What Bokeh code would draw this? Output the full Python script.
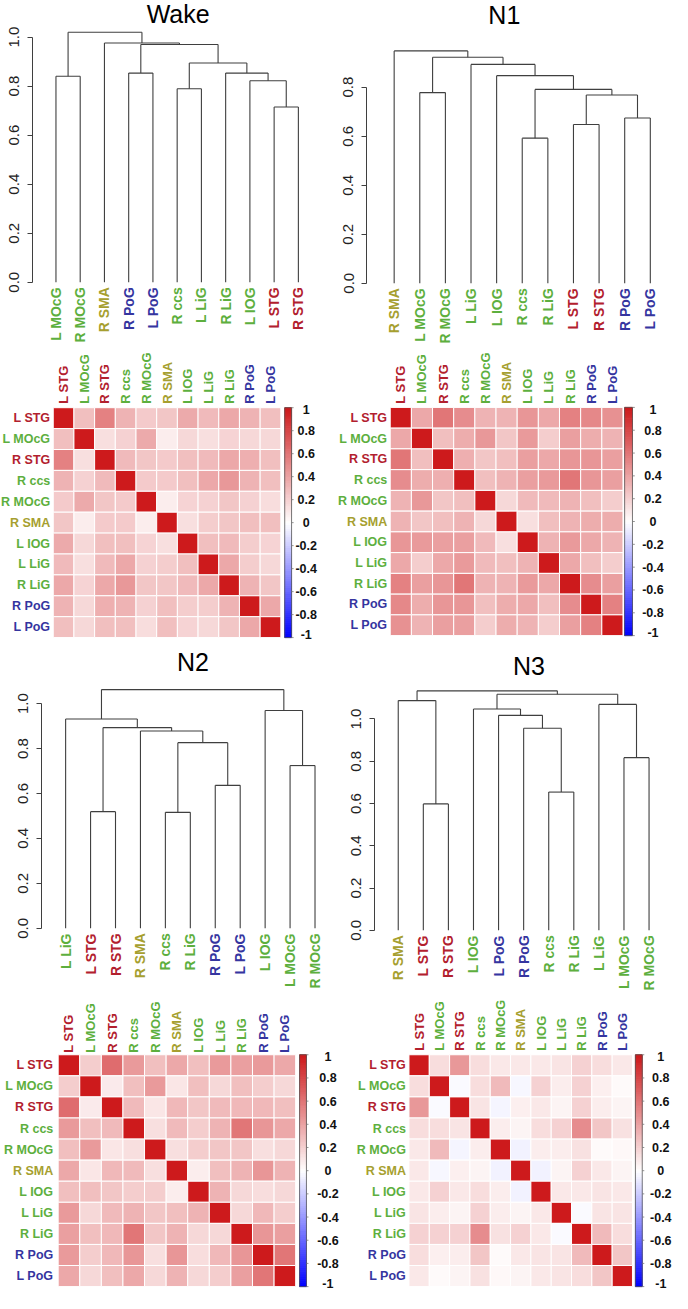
import math
from bokeh.plotting import figure
from bokeh.layouts import column, row
from bokeh.models import (Range1d, LinearAxis, FixedTicker, NumeralTickFormatter,
                          LinearColorMapper, ColumnDataSource)
from bokeh.core.properties import value
from bokeh.embed import file_html
from bokeh.resources import INLINE

FONT = "Liberation Sans"

# ---------------- data ----------------
regions = ["L STG", "L MOcG", "R STG", "R ccs", "R MOcG", "R SMA",
           "L IOG", "L LiG", "R LiG", "R PoG", "L PoG"]
region_color = {
    "L STG": "#B2202E", "R STG": "#B2202E",
    "L MOcG": "#5DAF3E", "R MOcG": "#5DAF3E", "R ccs": "#5DAF3E",
    "L IOG": "#5DAF3E", "L LiG": "#5DAF3E", "R LiG": "#5DAF3E",
    "R SMA": "#A69F30",
    "R PoG": "#35359F", "L PoG": "#35359F",
}

# upper triangles of the correlation matrices (row-wise, order = regions)
wake_upper = [
    [0.28, 0.55, 0.33, 0.23, 0.25, 0.37, 0.30, 0.38, 0.33, 0.28],
    [0.14, 0.20, 0.37, 0.08, 0.17, 0.14, 0.19, 0.17, 0.17],
    [0.30, 0.25, 0.23, 0.28, 0.30, 0.38, 0.35, 0.28],
    [0.23, 0.23, 0.28, 0.38, 0.45, 0.33, 0.28],
    [0.08, 0.19, 0.20, 0.25, 0.20, 0.15],
    [0.14, 0.22, 0.25, 0.28, 0.28],
    [0.28, 0.30, 0.22, 0.19],
    [0.38, 0.22, 0.17],
    [0.33, 0.25],
    [0.38],
]
n1_upper = [
    [0.38, 0.60, 0.50, 0.33, 0.33, 0.46, 0.38, 0.55, 0.52, 0.48],
    [0.28, 0.36, 0.45, 0.25, 0.44, 0.22, 0.42, 0.36, 0.33],
    [0.35, 0.25, 0.28, 0.42, 0.38, 0.46, 0.46, 0.42],
    [0.28, 0.33, 0.42, 0.44, 0.60, 0.46, 0.42],
    [0.17, 0.30, 0.30, 0.33, 0.28, 0.22],
    [0.14, 0.28, 0.33, 0.36, 0.36],
    [0.33, 0.44, 0.38, 0.33],
    [0.38, 0.28, 0.22],
    [0.50, 0.42],
    [0.55],
]
n2_upper = [
    [0.22, 0.64, 0.44, 0.28, 0.38, 0.28, 0.44, 0.42, 0.44, 0.38],
    [0.09, 0.28, 0.44, 0.11, 0.28, 0.17, 0.28, 0.22, 0.17],
    [0.30, 0.11, 0.31, 0.25, 0.30, 0.31, 0.31, 0.28],
    [0.14, 0.30, 0.22, 0.33, 0.60, 0.46, 0.38],
    [0.14, 0.22, 0.25, 0.25, 0.14, 0.17],
    [0.08, 0.28, 0.33, 0.46, 0.33],
    [0.33, 0.17, 0.15, 0.17],
    [0.17, 0.31, 0.22],
    [0.46, 0.42],
    [0.60],
]
n3_upper = [
    [0.15, 0.45, 0.15, 0.10, 0.10, 0.10, 0.12, 0.20, 0.15, 0.10],
    [-0.02, 0.15, 0.30, -0.03, 0.20, 0.08, 0.20, 0.07, 0.02],
    [0.12, -0.04, 0.07, 0.10, 0.05, 0.20, 0.08, 0.05],
    [0.08, 0.05, 0.15, 0.20, 0.50, 0.25, 0.13],
    [-0.05, 0.08, 0.08, 0.13, 0.02, 0.03],
    [-0.05, 0.05, 0.20, 0.10, 0.05],
    [0.10, 0.10, 0.12, 0.10],
    [-0.02, 0.12, 0.12],
    [0.30, 0.15],
    [0.25],
]

# dendrograms: leaf order and merges (child a, child b, height); ints = earlier merge (1-based)
wake_order = ["L MOcG", "R MOcG", "R SMA", "R PoG", "L PoG", "R ccs",
              "L LiG", "R LiG", "L IOG", "L STG", "R STG"]
wake_merges = [("L STG", "R STG", 0.715), ("L IOG", 1, 0.822), ("R LiG", 2, 0.853),
               ("R ccs", "L LiG", 0.789), (4, 3, 0.894), ("R PoG", "L PoG", 0.853),
               (6, 5, 0.970), ("R SMA", 7, 0.976), ("L MOcG", "R MOcG", 0.840),
               (9, 8, 1.020)]
n1_order = ["R SMA", "L MOcG", "R MOcG", "L LiG", "L IOG", "R ccs",
            "R LiG", "L STG", "R STG", "R PoG", "L PoG"]
n1_merges = [("R ccs", "R LiG", 0.592), ("L STG", "R STG", 0.648), ("R PoG", "L PoG", 0.674),
             (2, 3, 0.768), (1, 4, 0.791), ("L MOcG", "R MOcG", 0.778),
             ("L IOG", 5, 0.847), ("L LiG", 7, 0.893), (6, 8, 0.922), ("R SMA", 9, 0.948)]
n2_order = ["L LiG", "L STG", "R STG", "R SMA", "R ccs", "R LiG",
            "R PoG", "L PoG", "L IOG", "L MOcG", "R MOcG"]
n2_merges = [("R ccs", "R LiG", 0.516), ("L STG", "R STG", 0.519), ("R PoG", "L PoG", 0.636),
             ("L MOcG", "R MOcG", 0.724), (1, 3, 0.826), ("R SMA", 5, 0.878),
             (2, 6, 0.893), ("L LiG", 7, 0.931), ("L IOG", 4, 0.969), (8, 9, 1.062)]
n3_order = ["R SMA", "L STG", "R STG", "L IOG", "L PoG", "R PoG",
            "R ccs", "R LiG", "L LiG", "L MOcG", "R MOcG"]
n3_merges = [("L STG", "R STG", 0.598), ("R ccs", "R LiG", 0.654), ("L MOcG", "R MOcG", 0.817),
             ("R PoG", 2, 0.956), ("L PoG", 4, 1.017), ("L IOG", 5, 1.047),
             ("L LiG", 3, 1.069), ("R SMA", 1, 1.087), (6, 7, 1.117), (8, 9, 1.133)]

cbar_ticks = [1.0, 0.8, 0.6, 0.4, 0.2, 0.0, -0.2, -0.4, -0.6, -0.8, -1.0]
cbar_labels = ["1", "0.8", "0.6", "0.4", "0.2", "0", "-0.2", "-0.4", "-0.6", "-0.8", "-1"]

# ---------------- helpers ----------------
SH = 336 / 344.0
SV = 1293 / 1309.0
LINE = "#3f3f3f"


def hexc(rgb):
    return "#%02x%02x%02x" % tuple(int(round(v)) for v in rgb)


def make_palette(n=100):
    blue, white, red = (0, 0, 255), (255, 255, 255), (205, 26, 28)
    pal = []
    for k in range(n):
        t = k / n
        pal.append(hexc([blue[i] + (white[i] - blue[i]) * t for i in range(3)]))
    for k in range(n + 1):
        t = k / n
        pal.append(hexc([white[i] + (red[i] - white[i]) * t for i in range(3)]))
    return pal


mapper = LinearColorMapper(palette=make_palette(), low=-1, high=1)


def full_matrix(upper):
    n = len(regions)
    M = [[1.0] * n for _ in range(n)]
    for i, r in enumerate(upper):
        for k, v in enumerate(r):
            j = i + 1 + k
            M[i][j] = v
            M[j][i] = v
    return M


def add_text(p, xs, ys, texts, colors, size, bold, angle, align, baseline):
    src = ColumnDataSource(dict(x=xs, y=ys, t=texts, c=colors))
    p.text(x="x", y="y", text="t", text_color="c", source=src, angle=angle,
           text_align=align, text_baseline=baseline, text_font=value(FONT),
           text_font_size=value(size), text_font_style="bold" if bold else "normal")


def px_w(rx0, rx1):
    return int(round(rx1 * SH)) - int(round(rx0 * SH))


def px_h(ry0, ry1):
    return int(round(ry1 * SV)) - int(round(ry0 * SV))


def dendro_fig(title, order, merges, top_tick, box, axis_x, leaf1, leafn, zero_y, ppu, title_xy):
    rx0, ry0, rx1, ry1 = box
    W, H = px_w(rx0, rx1), px_h(ry0, ry1)
    dx = (leafn - leaf1) / 10.0
    fx = lambda r: 1 + (r - leaf1) / dx
    fy = lambda r: (zero_y - r) / ppu
    ml = int(round((axis_x - rx0) * SH))
    p = figure(width=W, height=H, output_backend="svg", toolbar_location=None,
               x_range=Range1d(fx(axis_x), fx(rx1)), y_range=Range1d(fy(ry1), fy(ry0)),
               x_axis_location=None, y_axis_location=None,
               min_border_left=ml, min_border_right=0, min_border_top=0, min_border_bottom=0)
    p.outline_line_color = None
    p.grid.visible = False

    pos = {name: i + 1 for i, name in enumerate(order)}
    nodes = []

    def get(c):
        if isinstance(c, str):
            return float(pos[c]), 0.0
        return nodes[c - 1]

    x0, y0, x1, y1 = [], [], [], []
    for a, b, h in merges:
        xa, ha = get(a)
        xb, hb = get(b)
        x0 += [xa, xb, xa]
        y0 += [ha, hb, h]
        x1 += [xa, xb, xb]
        y1 += [h, h, h]
        nodes.append(((xa + xb) / 2.0, h))
    p.segment(x0=x0, y0=y0, x1=x1, y1=y1, line_color=LINE, line_width=1.1)

    ax = LinearAxis(bounds=(0, top_tick),
                    ticker=FixedTicker(ticks=[round(0.2 * k, 1) for k in range(int(round(top_tick / 0.2)) + 1)]),
                    formatter=NumeralTickFormatter(format="0.0"),
                    major_label_orientation="parallel",
                    major_label_text_font=FONT, major_label_text_font_size="15px",
                    major_label_text_color="#222222", major_label_standoff=8,
                    major_tick_out=5, major_tick_in=0, minor_tick_out=0, minor_tick_in=0,
                    axis_line_color=LINE, major_tick_line_color=LINE)
    p.add_layout(ax, "left")

    add_text(p, [float(pos[n]) for n in order], [fy(zero_y + 5)] * len(order), order,
             [region_color[n] for n in order], "14px", True, math.pi / 2, "right", "middle")
    add_text(p, [fx(title_xy[0])], [fy(title_xy[1])], [title], ["#000000"], "25px", False,
             0.0, "center", "middle")
    return p


def heat_fig(upper, box, cells, cb_x, cb_label_x, rowlab_x, collab_y):
    rx0, ry0, rx1, ry1 = box
    cx0, cy0, cx1, cy1 = cells
    n = len(regions)
    fx = lambda r: n * (r - cx0) / (cx1 - cx0)
    fy = lambda r: n * (r - cy0) / (cy1 - cy0)
    W, H = px_w(rx0, rx1), px_h(ry0, ry1)
    p = figure(width=W, height=H, output_backend="svg", toolbar_location=None,
               x_range=Range1d(fx(rx0), fx(rx1)), y_range=Range1d(fy(ry1), fy(ry0)),
               x_axis_location=None, y_axis_location=None,
               min_border_left=0, min_border_right=0, min_border_top=0, min_border_bottom=0)
    p.outline_line_color = None
    p.grid.visible = False

    M = full_matrix(upper)
    xs, ys, rs = [], [], []
    for i in range(n):
        for j in range(n):
            xs.append(j + 0.5)
            ys.append(i + 0.5)
            rs.append(M[i][j])
    src = ColumnDataSource(dict(x=xs, y=ys, r=rs))
    p.rect(x="x", y="y", width=1, height=1, source=src,
           fill_color={"field": "r", "transform": mapper}, line_color="white", line_width=1)

    # colour bar from the same mapper
    nb = 120
    bx0, bx1 = fx(cb_x[0]), fx(cb_x[1])
    vals = [-1 + 2.0 * (k + 0.5) / nb for k in range(nb)]
    bsrc = ColumnDataSource(dict(x=[(bx0 + bx1) / 2] * nb, y=[(1 - v) / 2 * n for v in vals], r=vals))
    p.rect(x="x", y="y", width=bx1 - bx0, height=n / nb, source=bsrc,
           fill_color={"field": "r", "transform": mapper},
           line_color={"field": "r", "transform": mapper}, line_width=1)
    p.rect(x=[(bx0 + bx1) / 2], y=[n / 2], width=bx1 - bx0, height=n,
           fill_color=None, line_color="#555555", line_width=0.8)
    ty = [(1 - v) / 2 * n for v in cbar_ticks]
    p.segment(x0=[bx1] * len(ty), y0=ty, x1=[bx1 + (bx1 - bx0) * 0.3] * len(ty), y1=ty,
              line_color="#777777", line_width=0.8)
    # end labels sit slightly inside the bar ends (as corrplot does)
    ly = [min(max(t, 0.1), n - 0.16) for t in ty]
    add_text(p, [fx(cb_label_x)] * len(ty), ly, cbar_labels, ["#111111"] * len(ty),
             "12.5px", True, 0.0, "center", "middle")

    add_text(p, [j + 0.5 for j in range(n)], [fy(collab_y)] * n, regions,
             [region_color[r] for r in regions], "13px", True, math.pi / 2, "left", "middle")
    add_text(p, [fx(rowlab_x)] * n, [i + 0.5 for i in range(n)], regions,
             [region_color[r] for r in regions], "12.5px", True, 0.0, "right", "middle")
    return p


# ---------------- panels ----------------
d_wake = dendro_fig("Wake", wake_order, wake_merges, 1.0, (0, 0, 344, 352),
                    33, 57, 305, 285, 248.0, (182, 14))
d_n1 = dendro_fig("N1", n1_order, n1_merges, 0.8, (344, 0, 688, 352),
                  375, 403.3, 665.3, 286, 247.9, (516, 15))
h_wake = heat_fig(wake_upper, (0, 352, 344, 652), (54, 412, 287, 645), (291, 298), 313, 51, 408)
h_n1 = heat_fig(n1_upper, (344, 352, 688, 652), (399, 411.7, 637.3, 643), (639, 647), 668, 396, 408)
d_n2 = dendro_fig("N2", n2_order, n2_merges, 1.0, (0, 652, 344, 1012),
                  42, 66.7, 322, 939, 227.3, (197, 670))
d_n3 = dendro_fig("N3", n3_order, n3_merges, 1.0, (344, 652, 688, 1012),
                  383, 407.3, 664, 941, 213.7, (541, 674))
h_n2 = heat_fig(n2_upper, (0, 1012, 354, 1309), (59, 1067, 302, 1302), (306, 313), 335, 54, 1065)
h_n3 = heat_fig(n3_upper, (354, 1012, 688, 1309), (418, 1067, 647, 1302), (650, 657), 676, 415, 1063)

layout = column(row(d_wake, d_n1), row(h_wake, h_n1), row(d_n2, d_n3), row(h_n2, h_n3))

open("out.html", "w").write(file_html(layout, INLINE))
